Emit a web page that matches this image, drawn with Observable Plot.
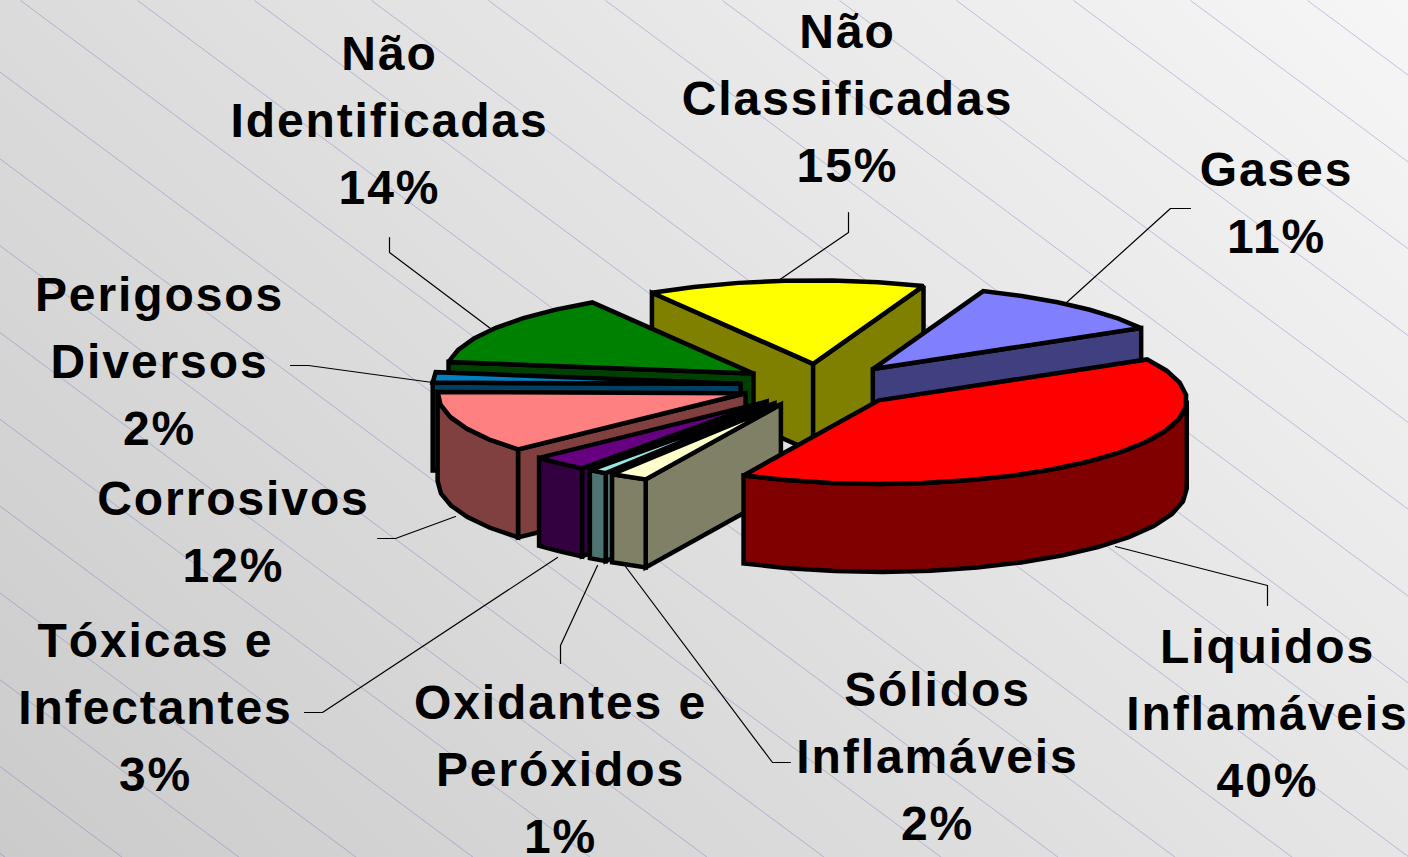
<!DOCTYPE html>
<html lang="pt">
<head>
<meta charset="utf-8">
<title>Classes de substâncias</title>
<script src="https://cdn.jsdelivr.net/npm/d3@7"></script>
<script src="https://cdn.jsdelivr.net/npm/@observablehq/plot@0.6"></script>
<style>
html,body{margin:0;padding:0;overflow:hidden;background:#ddd}
svg{display:block}
</style>
</head>
<body>
<div id="chart"></div>
<script>
// Data, clockwise from the red slice (slice sizes; labels show them rounded)
const categorias = ["Liquidos Inflamáveis","Sólidos Inflamáveis","Oxidantes e Peróxidos","Tóxicas e Infectantes","Corrosivos","Perigosos Diversos","Não Identificadas","Não Classificadas","Gases"];
const valores = [40.4,2,1,3,12,2,14,14.6,11];
const rotulos = ["Liquidos\nInflamáveis\n40%","Sólidos\nInflamáveis\n2%","Oxidantes e\nPeróxidos\n1%","Tóxicas e\nInfectantes\n3%","Corrosivos\n12%","Perigosos\nDiversos\n2%","Não\nIdentificadas\n14%","Não\nClassificadas\n15%","Gases\n11%"];

// Styles
const corTopo = ["#ff0000","#ffffcc","#99e6e6","#660080","#ff8080","#0080c0","#008000","#ffff00","#8080ff"];
const corLado = ["#800000","#808066","#4d7373","#330040","#804040","#004060","#004000","#808000","#404080"];
const ordemPintura = [7,8,6,5,4,3,2,1,0];

// Layout (pixels in the 1408x857 frame)
const W = 1408, H = 857;
const centro = [820,385], raio = [308,83.5], profundidade = 88, explosao = 0.26, inicio = 60.6;
const ux = p => (p - centro[0]) / raio[0];
const uy = p => (centro[1] - p) / raio[1];
const posRotulos = [[1267,708],[937,751],[560,764],[155,702],[233,527],[159,356],[389,115],[847,93],[1276,198]];
const guias = [
  [[1267,605],[1267,585],[1115,546]],
  [[790,762],[772,762],[625,566]],
  [[560,663],[560,645],[597,565]],
  [[304,712],[322,712],[557,557]],
  [[377,538],[395,538],[455,516]],
  [[290,365],[308,365],[432,382]],
  [[389,237],[389,252],[490,328]],
  [[848,212],[848,232],[778,280]],
  [[1190,208],[1170,208],[1065,303]]
];
const declive = 0.742, passoFundo = 117, origemFundo = 20;

// Slice geometry derived from the values through d3.pie
const rad = d => d * Math.PI / 180;
const arcos = d3.pie().sort(null).startAngle(rad(inicio)).endAngle(rad(inicio + 360))(valores);
const passo = rad(9);
function rim(a0, a1) {
  const n = Math.max(1, Math.ceil((a1 - a0) / passo));
  return d3.range(n + 1).map(i => a0 + (a1 - a0) * i / n);
}
const faces = [];
function face(id, pts, fill) { pts.forEach(([x,y]) => faces.push({id, x, y, fill})); }
const dz = profundidade / raio[1];
for (const i of ordemPintura) {
  const {startAngle:a0, endAngle:a1} = arcos[i];
  const m = (a0 + a1) / 2;
  const ax = explosao * Math.sin(m), ay = explosao * Math.cos(m);
  const P = a => [ax + Math.sin(a), ay + Math.cos(a)];
  const down = ([x,y]) => [x, y - dz];
  const wall = (a) => {
    const p = P(a), q = [ax, ay];
    return [q, p, down(p), down(q)];
  };
  // walls that face the viewer
  if (Math.sin(a0) < 0) face(`${i}-s`, wall(a0), corLado[i]);
  if (Math.sin(a1) > 0) face(`${i}-e`, wall(a1), corLado[i]);
  // outer wall, the part of the rim on the near side
  const lo = d3.range(-1, 4).map(k => [rad(90 + 360 * k), rad(270 + 360 * k)]);
  for (const [b0, b1] of lo) {
    const s = Math.max(a0, b0), e = Math.min(a1, b1);
    if (e > s) {
      const top = rim(s, e).map(P);
      face(`${i}-o${b0}`, [...top, ...top.slice().reverse().map(down)], corLado[i]);
    }
  }
  // top face
  face(`${i}-t`, [[ax, ay], ...rim(a0, a1).map(P)], corTopo[i]);
}

const fundo = d3.range(-10, 13).map(k => {
  const x0 = origemFundo + k * passoFundo;
  return {x1: ux(x0), y1: uy(0), x2: ux(x0 + H / declive), y2: uy(H)};
});
const linhasGuia = guias.flatMap((g, i) => g.map(([x,y]) => ({i, x: ux(x), y: uy(y)})));
const textos = rotulos.map((t, i) => ({t, c: categorias[i], x: ux(posRotulos[i][0]), y: uy(posRotulos[i][1])}));

const plot = Plot.plot({
  width: W, height: H,
  margin: 0,
  x: {domain: [-1, 1], range: [centro[0] - raio[0], centro[0] + raio[0]], axis: null},
  y: {domain: [-1, 1], range: [centro[1] + raio[1], centro[1] - raio[1]], axis: null},
  style: {
    background: "linear-gradient(45deg,#cbcbcb,#f6f6f6)",
    fontFamily: "'Liberation Sans', Arial, sans-serif",
    letterSpacing: "1.9px",
    overflow: "hidden"
  },
  marks: [
    Plot.link(fundo, {x1:"x1", y1:"y1", x2:"x2", y2:"y2", stroke:"#6060c0", strokeOpacity:0.35, strokeWidth:1}),
    Plot.line(linhasGuia, {x:"x", y:"y", z:"i", stroke:"#000", strokeWidth:1.2}),
    Plot.line(faces, {x:"x", y:"y", z:"id", fill:"fill", stroke:"#000", strokeWidth:4.5, strokeLinejoin:"miter", strokeMiterlimit:2, curve:"linear-closed"}),
    Plot.text(textos, {x:"x", y:"y", text:"t", fontSize:48, fontWeight:700, fill:"#000", lineHeight:1.396, textAnchor:"middle"})
  ]
});
document.getElementById("chart").append(plot);
</script>
</body>
</html>
